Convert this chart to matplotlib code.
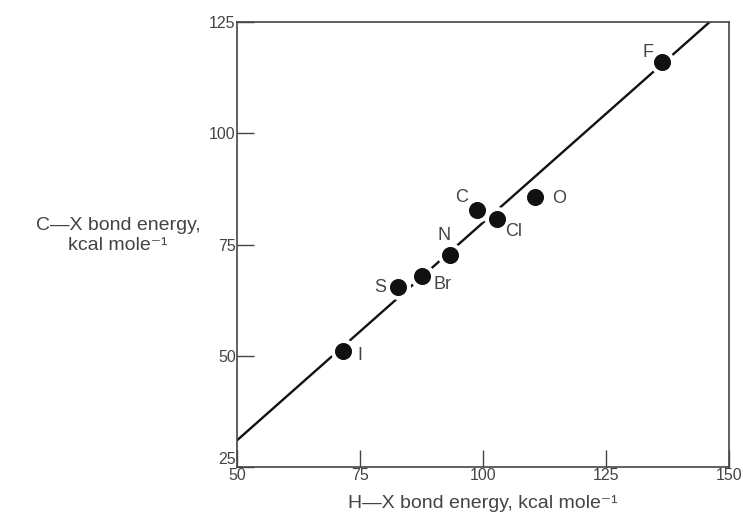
import matplotlib
matplotlib.use("Agg")
import matplotlib.pyplot as plt
import numpy as np

plt.rcParams['font.family'] = ['Liberation Sans', 'DejaVu Sans']

# H-X vs C-X bond energies (kcal/mol)
elements = ["I", "S", "Br", "N", "C", "Cl", "O", "F"]
hx = [71.5, 82.7, 87.6, 93.3, 98.8, 102.8, 110.6, 136.4]
cx = [51.1, 65.4, 67.9, 72.6, 82.8, 80.7, 85.7, 116.0]

# fitted straight line
line_x = [50, 146.1]
line_y = [31.0, 125.0]

# label offsets in points
offsets = {"I": (12, -3), "S": (-13, 0), "Br": (15, -6), "N": (-4, 14),
           "C": (-11, 9), "Cl": (12, -9), "O": (17, -1), "F": (-10, 7)}

fig = plt.figure(figsize=(7.43, 5.23), dpi=100)
ax = fig.add_axes([0.319, 0.107, 0.662, 0.851])

ink = "#111111"
grey = "#444444"

ax.plot(line_x, line_y, color=ink, lw=1.7, zorder=2)
ax.plot(hx, cx, "o", ms=15, color=ink, mec="white", mew=3, zorder=3)
ax.plot(hx, cx, "o", ms=12, color=ink, mew=0, zorder=4)

for el, x, y in zip(elements, hx, cx):
    dx, dy = offsets[el]
    ax.annotate(el, (x, y), xytext=(dx, dy), textcoords="offset points",
                ha="center", va="center", fontsize=13, color=grey)

ax.set_xlim(50, 150)
ax.set_ylim(25, 125)
ax.set_xticks([50, 75, 100, 125, 150])
ax.set_yticks([25, 50, 75, 100, 125])
ax.tick_params(direction="in", length=12, width=1, colors=grey,
               labelsize=11.5, pad=1)
for s in ax.spines.values():
    s.set_color(grey)
    s.set_linewidth(1.2)
ax.get_yticklabels()[0].set_va("bottom")

ax.set_xlabel("H—X bond energy, kcal mole⁻¹", fontsize=14, color=grey,
              labelpad=8)
fig.text(0.159, 0.55, "C—X bond energy,\nkcal mole⁻¹", fontsize=14,
         color=grey, ha="center", va="center", linespacing=1.25)

fig.savefig("out.png", dpi=100)
